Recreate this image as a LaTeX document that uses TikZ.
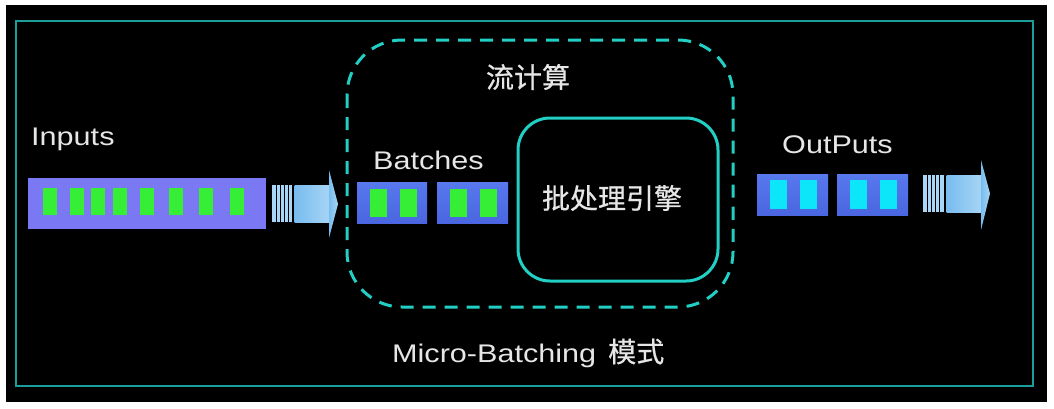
\documentclass[tikz,border=0pt]{standalone}
\usepackage{fontspec}
\setmainfont[FakeStretch=1.2]{Liberation Sans}
\newfontfamily\cjk[FakeBold=0.6]{Noto Sans CJK SC}
\definecolor{frame}{HTML}{1A9E9A}
\definecolor{dashcol}{HTML}{22CFC4}
\definecolor{txt}{HTML}{E6E6E6}
\definecolor{bar}{HTML}{7A78F2}
\definecolor{grn}{HTML}{35EE35}
\definecolor{bbox}{HTML}{5878EE}
\definecolor{bboxb}{HTML}{4A66E0}
\definecolor{cyn}{HTML}{0CE6F8}
\definecolor{arr}{HTML}{78BCEE}
\definecolor{arrl}{HTML}{A8D6F6}
\tikzset{
  lbl/.style={text=txt, font=\fontsize{25.5}{30}\selectfont, inner sep=0pt},
  cjklbl/.style={text=txt, font=\cjk\fontsize{28}{32}\selectfont, inner sep=0pt},
  blk/.style={fill=grn, draw=none},
  cblk/.style={fill=cyn, draw=none},
  minibox/.style={draw=none, top color=bbox, bottom color=bboxb},
}
\begin{document}
\begin{tikzpicture}[x=1pt,y=-1pt]
\useasboundingbox (0,0) rectangle (1054,408);
\fill[white] (0,0) rectangle (1054,408);
\fill[black] (6,5) rectangle (1047,402);
\draw[frame, line width=2.5] (16,21) rectangle (1033,386);
% dashed stream region
\draw[dashcol, line width=3, dash pattern=on 13 off 9, rounded corners=55] (347,40) rectangle (733,307);
\node[cjklbl] (stream) at (528,77) {流计算};
% engine
\draw[dashcol, line width=3, rounded corners=32] (518,118) rectangle (718,281);
\node[cjklbl] (engine) at (612,198) {批处理引擎};
% inputs
\node[lbl, anchor=west] (inputs) at (31,139) {Inputs};
\fill[bar] (28,178) rectangle (266,229);
\foreach \c in {50,76.5,97.5,120,146.5,175.5,206,236.5}
  \fill[blk] (\c-7,188) rectangle (\c+7,215);
% arrow 1
\fill[arrl] (272,185) rectangle (293,222);
\foreach \s in {275.5,279.5,283.5,287.5}
  \fill[black] (\s,185) rectangle (\s+1.3,222);
\fill[black] (292,185) rectangle (294.5,222);
\shade[left color=arr, right color=arrl] (294.5,185) rectangle (331,222);
\shade[left color=arr, right color=arrl] (329,170) -- (338,204) -- (329,238) -- cycle;
% batches
\node[lbl, anchor=west] (batches) at (373,160) {Batches};
\shade[minibox] (357,182) rectangle (427,223);
\fill[blk] (370,189) rectangle (387,217);
\fill[blk] (400,189) rectangle (417,217);
\shade[minibox] (437,182) rectangle (508,223);
\fill[blk] (450,189) rectangle (467,217);
\fill[blk] (480,189) rectangle (497,217);
% outputs
\node[lbl, anchor=west] (outputs) at (782,145) {OutPuts};
\shade[minibox] (757,174) rectangle (828,215);
\fill[cblk] (770,180) rectangle (787,209);
\fill[cblk] (800,180) rectangle (817,209);
\shade[minibox] (837,174) rectangle (908,215);
\fill[cblk] (850,180) rectangle (867,209);
\fill[cblk] (880,180) rectangle (897,209);
% arrow 2
\fill[arrl] (923,175) rectangle (945,212);
\foreach \s in {926.5,930.5,934.5,938.5}
  \fill[black] (\s,175) rectangle (\s+1.3,212);
\fill[black] (944,175) rectangle (946.5,212);
\shade[left color=arr, right color=arrl] (946.5,175) rectangle (983,212);
\shade[left color=arr, right color=arrl] (981,160) -- (990,193.5) -- (981,230) -- cycle;
% caption
\node[lbl, anchor=west] (caption) at (392,353) {Micro-Batching\hspace{12pt}{\cjk\fontsize{28}{32}\selectfont 模式}};
\end{tikzpicture}
\end{document}
